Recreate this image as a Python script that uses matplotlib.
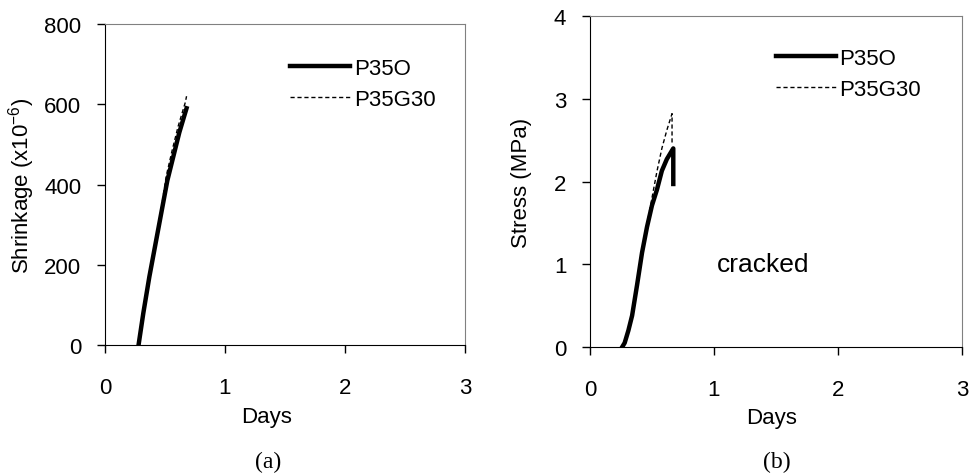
import matplotlib
matplotlib.use('Agg')
from matplotlib import pyplot as plt

plt.rcParams['font.family'] = ['Liberation Sans', 'DejaVu Sans']
plt.rcParams['mathtext.fontset'] = 'custom'
plt.rcParams['mathtext.rm'] = 'Liberation Sans'
plt.rcParams['mathtext.it'] = 'Liberation Sans:italic'

# (a) shrinkage, x10^-6
shr_days_o = [0.28, 0.32, 0.37, 0.42, 0.47, 0.52, 0.57, 0.62, 0.68]
shr_o = [0, 80, 170, 250, 330, 410, 470, 530, 590]
shr_days_g = [0.28, 0.32, 0.37, 0.42, 0.47, 0.51, 0.56, 0.61, 0.67, 0.68]
shr_g = [0, 85, 175, 255, 340, 420, 485, 545, 605, 620]

# (b) stress, MPa
str_days_o = [0.26, 0.28, 0.31, 0.34, 0.38, 0.42, 0.46, 0.50, 0.54, 0.58, 0.62, 0.672, 0.672]
str_o = [0.0, 0.05, 0.20, 0.38, 0.75, 1.14, 1.45, 1.71, 1.90, 2.13, 2.27, 2.40, 1.97]
str_days_g = [0.26, 0.28, 0.31, 0.34, 0.38, 0.42, 0.46, 0.50, 0.54, 0.58, 0.62, 0.662, 0.662]
str_g = [0.0, 0.05, 0.20, 0.38, 0.75, 1.16, 1.48, 1.80, 2.12, 2.40, 2.62, 2.82, 2.45]

FS = 16
fig = plt.figure(figsize=(9.7, 4.77), dpi=100)
ax1 = fig.add_axes([0.1082, 0.2746, 0.3711, 0.673])
ax2 = fig.add_axes([0.6082, 0.2704, 0.3835, 0.694])

for ax in (ax1, ax2):
    for s in ('top', 'right'):
        ax.spines[s].set_color('#808080')
    for s in ('left', 'bottom'):
        ax.spines[s].set_color('black')
    ax.tick_params(direction='out', length=6, width=1, labelsize=FS)
    ax.tick_params(axis='x', pad=17)
    ax.tick_params(axis='y', pad=11)
    ax.set_xlim(0, 3)
    ax.set_xticks([0, 1, 2, 3])

ax1.plot(shr_days_o, shr_o, color='black', lw=3.2, label='P35O')
ax1.plot(shr_days_g, shr_g, color='black', lw=1, ls=(0, (3, 2)), label='P35G30')
ax1.set_ylim(0, 800)
ax1.set_yticks([0, 200, 400, 600, 800])
ax1.set_xlabel('Days', fontsize=FS)
ax1.set_ylabel('Shrinkage (x10$^{-6}$)', fontsize=FS)
ax1.xaxis.set_label_coords(0.449, -0.19)
ax1.yaxis.set_label_coords(-0.19, 0.5)
ax1.legend(loc='upper left', bbox_to_anchor=(0.515, 0.895), frameon=False,
           fontsize=FS, handlelength=2.7, handletextpad=0.15, borderpad=0,
           borderaxespad=0, labelspacing=0.45)

ax2.plot(str_days_o, str_o, color='black', lw=3.2, label='P35O')
ax2.plot(str_days_g, str_g, color='black', lw=1, ls=(0, (3, 2)), label='P35G30')
ax2.set_ylim(0, 4)
ax2.set_yticks([0, 1, 2, 3, 4])
ax2.set_xlabel('Days', fontsize=FS)
ax2.set_ylabel('Stress (MPa)', fontsize=FS)
ax2.xaxis.set_label_coords(0.488, -0.18)
ax2.yaxis.set_label_coords(-0.155, 0.5)
ax2.legend(loc='upper left', bbox_to_anchor=(0.5, 0.903), frameon=False,
           fontsize=FS, handlelength=2.7, handletextpad=0.15, borderpad=0,
           borderaxespad=0, labelspacing=0.45)
ax2.text(0.34, 0.25, 'cracked', transform=ax2.transAxes, fontsize=19,
         ha='left', va='center')

fig.text(0.276, 0.031, '(a)', fontsize=17, family='Liberation Serif',
         ha='center', va='center')
fig.text(0.801, 0.031, '(b)', fontsize=17, family='Liberation Serif',
         ha='center', va='center')

fig.savefig('out.png', dpi=100)
